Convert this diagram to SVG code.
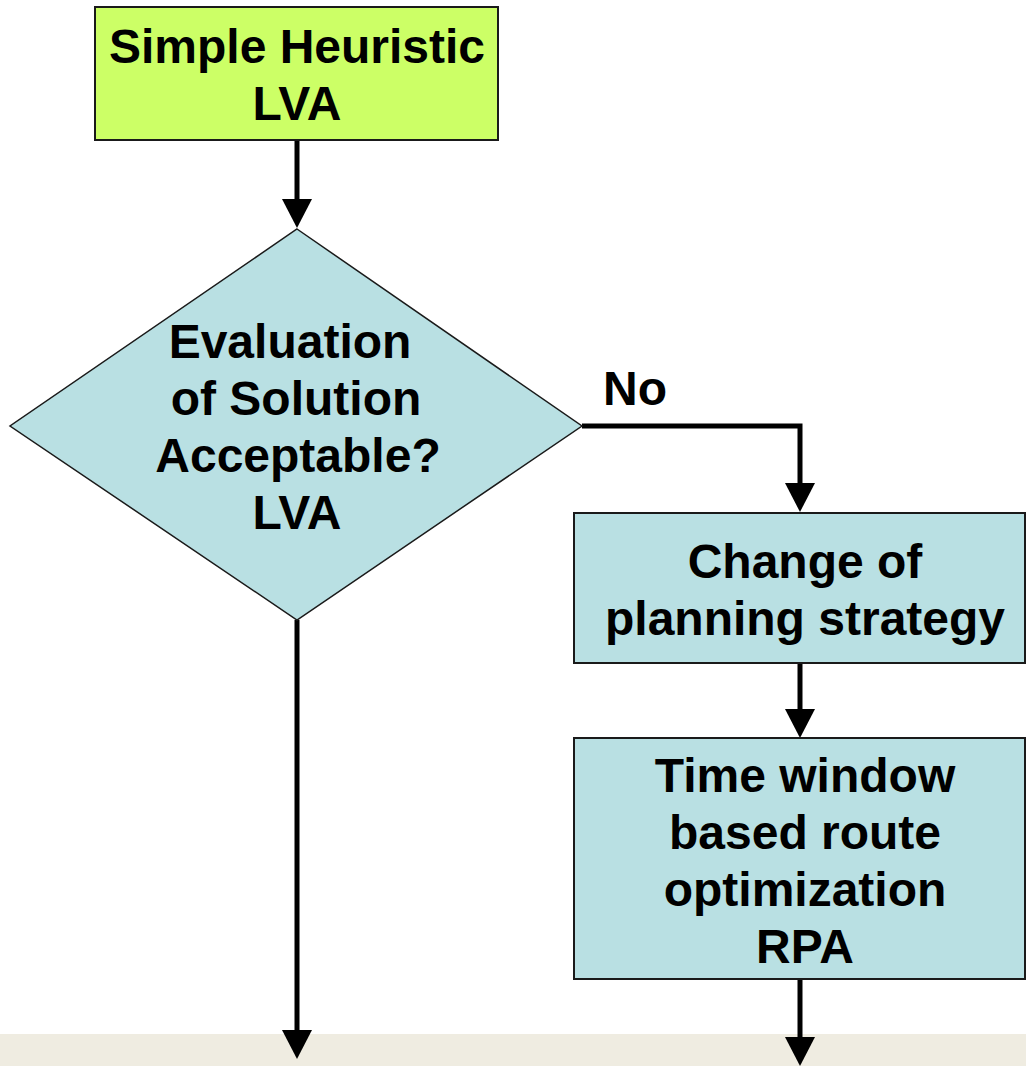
<svg xmlns="http://www.w3.org/2000/svg" width="1026" height="1066" viewBox="0 0 1026 1066">
  <style>
    .box { stroke: #1a1a1a; stroke-width: 2; }
    .green { fill: #CCFF66; }
    .blue { fill: #B9E0E3; }
    .label { font-family: "Liberation Sans", Arial, sans-serif; font-weight: bold; font-size: 48px; fill: #000; text-anchor: middle; }
    .edge { fill: none; stroke: #000; stroke-width: 5; }
  </style>
  <defs>
    <marker id="head" viewBox="0 0 29 30" refX="0" refY="15" markerWidth="29" markerHeight="30" markerUnits="userSpaceOnUse" orient="auto">
      <path d="M0,0 L29,15 L0,30 Z" fill="#000"/>
    </marker>
  </defs>

  <rect width="1026" height="1066" fill="#ffffff"/>
  <!-- footer band -->
  <rect x="0" y="1034" width="1026" height="32" fill="#EFECE1"/>

  <g id="connectors">
    <path class="edge" d="M297,140 V199" marker-end="url(#head)"/>
    <path class="edge" d="M582,426 H800 V483" marker-end="url(#head)"/>
    <path class="edge" d="M800,663 V709" marker-end="url(#head)"/>
    <path class="edge" d="M800,979 V1037" marker-end="url(#head)"/>
    <path class="edge" d="M297,620 V1030" marker-end="url(#head)"/>
    <text class="label" x="635" y="405">No</text>
  </g>

  <g id="simple-heuristic">
    <rect class="box green" x="95" y="7" width="403" height="133"/>
    <text class="label" x="297" y="63">Simple Heuristic</text>
    <text class="label" x="297" y="120">LVA</text>
  </g>

  <g id="evaluation">
    <polygon class="blue" points="297,229 582,426 297,620 10,426" stroke="#1a1a1a" stroke-width="1.5"/>
    <text class="label" x="290" y="358">Evaluation</text>
    <text class="label" x="296" y="415">of Solution</text>
    <text class="label" x="298" y="472">Acceptable?</text>
    <text class="label" x="297" y="529">LVA</text>
  </g>

  <g id="change-strategy">
    <rect class="box blue" x="574" y="513" width="451" height="150"/>
    <text class="label" x="805" y="578">Change of</text>
    <text class="label" x="805" y="635">planning strategy</text>
  </g>

  <g id="route-optimization">
    <rect class="box blue" x="574" y="738" width="451" height="241"/>
    <text class="label" x="805" y="792">Time window</text>
    <text class="label" x="805" y="849">based route</text>
    <text class="label" x="805" y="906">optimization</text>
    <text class="label" x="805" y="963">RPA</text>
  </g>
</svg>
